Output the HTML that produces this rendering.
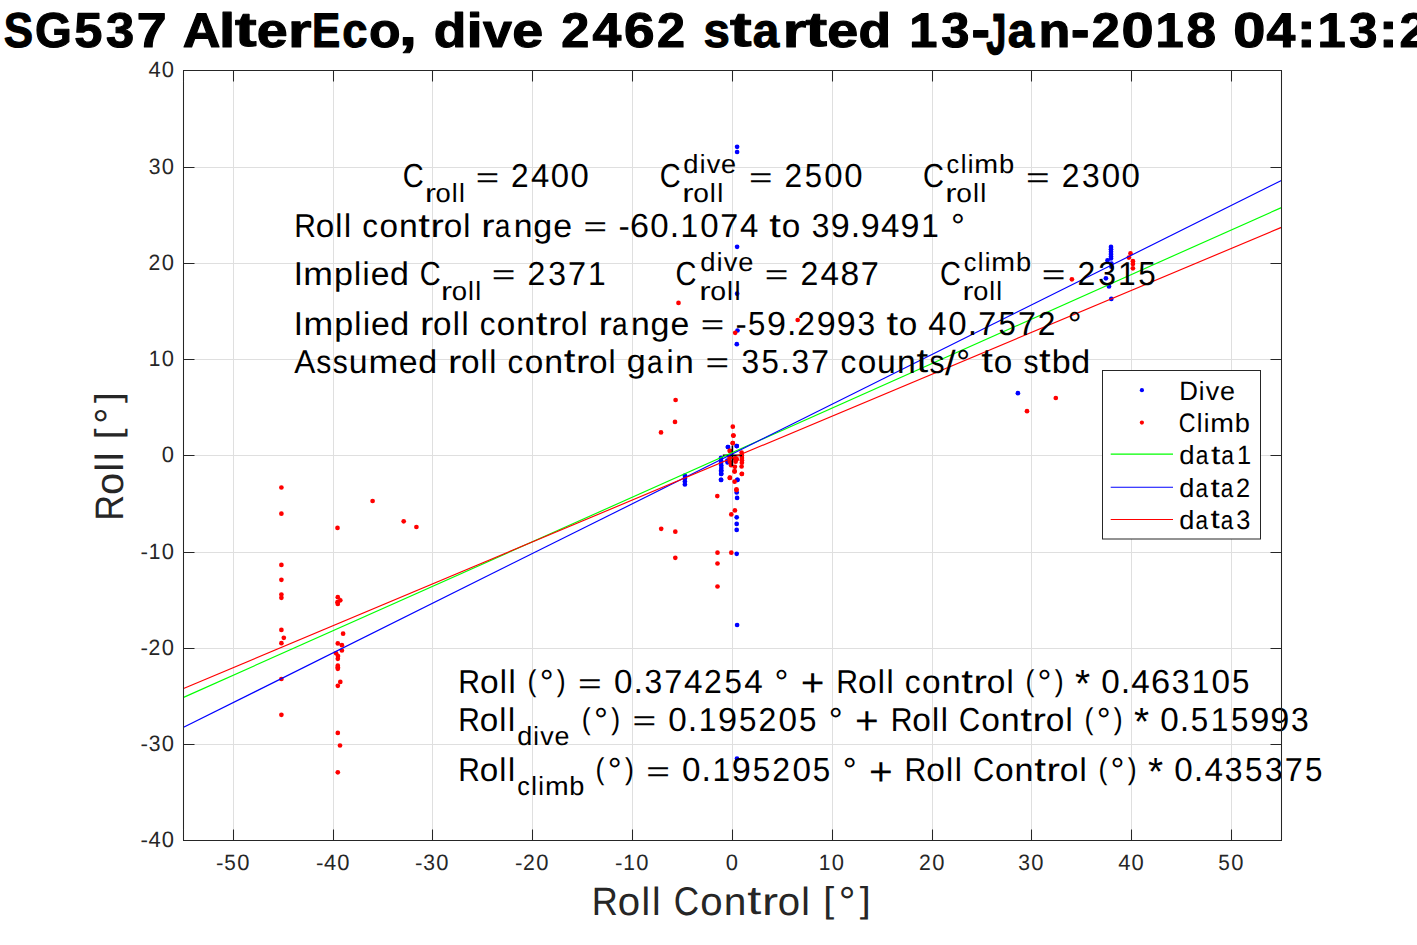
<!DOCTYPE html>
<html><head><meta charset="utf-8"><title>SG537 AlterEco roll plot</title>
<style>html,body{margin:0;padding:0;background:#fff;overflow:hidden;width:1417px;height:945px}
svg text{font-family:"Liberation Sans",sans-serif;font-kerning:none;text-rendering:geometricPrecision}</style></head>
<body><svg width="1417" height="945" viewBox="0 0 1417 945" font-family='&quot;Liberation Sans&quot;, sans-serif' style="display:block"><rect x="0" y="0" width="1417" height="945" fill="#fff"/>
<path d="M233.5 70.5V840.5 M333.5 70.5V840.5 M432.5 70.5V840.5 M532.5 70.5V840.5 M632.5 70.5V840.5 M732.5 70.5V840.5 M832.5 70.5V840.5 M932.5 70.5V840.5 M1031.5 70.5V840.5 M1131.5 70.5V840.5 M1231.5 70.5V840.5 M183.5 744.5H1281.5 M183.5 648.5H1281.5 M183.5 552.5H1281.5 M183.5 455.5H1281.5 M183.5 359.5H1281.5 M183.5 263.5H1281.5 M183.5 167.5H1281.5" stroke="#dfdfdf" stroke-width="1" fill="none"/>
<g fill="#0000ff"><circle cx="737.1" cy="146.8" r="2.35"/><circle cx="737.1" cy="152.0" r="2.35"/><circle cx="737.1" cy="246.8" r="2.35"/><circle cx="737.1" cy="293.7" r="2.35"/><circle cx="737.5" cy="330.5" r="2.35"/><circle cx="736.8" cy="344.2" r="2.35"/><circle cx="728.0" cy="447.0" r="2.35"/><circle cx="736.8" cy="446.1" r="2.35"/><circle cx="727.9" cy="447.0" r="2.35"/><circle cx="736.7" cy="446.0" r="2.35"/><circle cx="721.0" cy="457.9" r="2.35"/><circle cx="721.0" cy="460.5" r="2.35"/><circle cx="721.0" cy="463.0" r="2.35"/><circle cx="721.3" cy="465.6" r="2.35"/><circle cx="721.3" cy="468.1" r="2.35"/><circle cx="721.3" cy="470.6" r="2.35"/><circle cx="721.3" cy="473.8" r="2.35"/><circle cx="721.0" cy="479.8" r="2.35"/><circle cx="727.3" cy="460.5" r="2.35"/><circle cx="727.6" cy="462.4" r="2.35"/><circle cx="737.5" cy="479.8" r="2.35"/><circle cx="721.1" cy="470.9" r="2.35"/><circle cx="721.1" cy="474.0" r="2.35"/><circle cx="721.1" cy="479.9" r="2.35"/><circle cx="737.3" cy="479.9" r="2.35"/><circle cx="736.7" cy="492.5" r="2.35"/><circle cx="737.1" cy="497.9" r="2.35"/><circle cx="736.7" cy="517.3" r="2.35"/><circle cx="736.7" cy="523.9" r="2.35"/><circle cx="736.7" cy="529.9" r="2.35"/><circle cx="736.7" cy="553.8" r="2.35"/><circle cx="737.1" cy="625.0" r="2.35"/><circle cx="737.0" cy="758.5" r="2.35"/><circle cx="684.9" cy="475.5" r="2.35"/><circle cx="684.9" cy="478.5" r="2.35"/><circle cx="684.9" cy="481.5" r="2.35"/><circle cx="684.9" cy="484.5" r="2.35"/><circle cx="1111.0" cy="246.9" r="2.35"/><circle cx="1111.0" cy="249.3" r="2.35"/><circle cx="1111.0" cy="251.7" r="2.35"/><circle cx="1111.0" cy="254.0" r="2.35"/><circle cx="1111.0" cy="256.4" r="2.35"/><circle cx="1111.0" cy="258.4" r="2.35"/><circle cx="1107.5" cy="260.4" r="2.35"/><circle cx="1111.4" cy="263.6" r="2.35"/><circle cx="1111.4" cy="266.7" r="2.35"/><circle cx="1105.9" cy="278.3" r="2.35"/><circle cx="1109.0" cy="286.4" r="2.35"/><circle cx="1111.3" cy="298.9" r="2.35"/><circle cx="1017.9" cy="393.2" r="2.35"/></g>
<g fill="#ff0000"><circle cx="281.4" cy="487.5" r="2.35"/><circle cx="281.4" cy="513.7" r="2.35"/><circle cx="281.4" cy="564.9" r="2.35"/><circle cx="281.4" cy="579.8" r="2.35"/><circle cx="281.4" cy="594.6" r="2.35"/><circle cx="281.4" cy="597.8" r="2.35"/><circle cx="281.4" cy="629.9" r="2.35"/><circle cx="283.8" cy="637.8" r="2.35"/><circle cx="281.4" cy="643.2" r="2.35"/><circle cx="281.4" cy="679.0" r="2.35"/><circle cx="281.4" cy="714.8" r="2.35"/><circle cx="337.5" cy="527.9" r="2.35"/><circle cx="337.8" cy="597.2" r="2.35"/><circle cx="340.3" cy="600.3" r="2.35"/><circle cx="337.5" cy="602.2" r="2.35"/><circle cx="337.8" cy="604.0" r="2.35"/><circle cx="343.1" cy="633.7" r="2.35"/><circle cx="337.8" cy="643.4" r="2.35"/><circle cx="341.9" cy="645.2" r="2.35"/><circle cx="341.9" cy="650.5" r="2.35"/><circle cx="336.1" cy="653.3" r="2.35"/><circle cx="338.0" cy="656.1" r="2.35"/><circle cx="337.8" cy="658.8" r="2.35"/><circle cx="337.8" cy="665.7" r="2.35"/><circle cx="337.8" cy="667.2" r="2.35"/><circle cx="337.8" cy="668.8" r="2.35"/><circle cx="340.3" cy="681.9" r="2.35"/><circle cx="337.8" cy="685.8" r="2.35"/><circle cx="337.8" cy="732.9" r="2.35"/><circle cx="340.0" cy="745.5" r="2.35"/><circle cx="337.8" cy="772.3" r="2.35"/><circle cx="372.6" cy="501.0" r="2.35"/><circle cx="403.7" cy="521.3" r="2.35"/><circle cx="416.4" cy="527.0" r="2.35"/><circle cx="678.5" cy="302.9" r="2.35"/><circle cx="797.7" cy="320.0" r="2.35"/><circle cx="735.2" cy="332.8" r="2.35"/><circle cx="675.6" cy="400.0" r="2.35"/><circle cx="675.0" cy="421.9" r="2.35"/><circle cx="661.0" cy="432.4" r="2.35"/><circle cx="732.8" cy="426.7" r="2.35"/><circle cx="733.3" cy="435.6" r="2.35"/><circle cx="732.8" cy="443.2" r="2.35"/><circle cx="730.0" cy="450.9" r="2.35"/><circle cx="733.5" cy="435.6" r="2.35"/><circle cx="732.7" cy="443.0" r="2.35"/><circle cx="729.7" cy="450.8" r="2.35"/><circle cx="741.6" cy="452.5" r="2.35"/><circle cx="741.9" cy="455.4" r="2.35"/><circle cx="741.9" cy="457.9" r="2.35"/><circle cx="741.9" cy="460.2" r="2.35"/><circle cx="741.9" cy="462.7" r="2.35"/><circle cx="741.6" cy="466.5" r="2.35"/><circle cx="741.9" cy="473.8" r="2.35"/><circle cx="729.5" cy="457.9" r="2.35"/><circle cx="729.8" cy="461.7" r="2.35"/><circle cx="731.1" cy="465.2" r="2.35"/><circle cx="734.6" cy="458.6" r="2.35"/><circle cx="736.8" cy="459.2" r="2.35"/><circle cx="735.6" cy="461.7" r="2.35"/><circle cx="734.9" cy="466.8" r="2.35"/><circle cx="734.6" cy="471.3" r="2.35"/><circle cx="729.8" cy="477.9" r="2.35"/><circle cx="734.6" cy="481.7" r="2.35"/><circle cx="736.5" cy="489.4" r="2.35"/><circle cx="734.6" cy="471.4" r="2.35"/><circle cx="741.8" cy="474.0" r="2.35"/><circle cx="729.9" cy="477.7" r="2.35"/><circle cx="736.4" cy="490.1" r="2.35"/><circle cx="717.3" cy="496.1" r="2.35"/><circle cx="734.9" cy="510.4" r="2.35"/><circle cx="731.3" cy="514.4" r="2.35"/><circle cx="717.5" cy="552.7" r="2.35"/><circle cx="731.3" cy="552.7" r="2.35"/><circle cx="717.5" cy="563.5" r="2.35"/><circle cx="717.5" cy="586.5" r="2.35"/><circle cx="661.2" cy="528.8" r="2.35"/><circle cx="675.3" cy="531.7" r="2.35"/><circle cx="675.3" cy="557.8" r="2.35"/><circle cx="1130.5" cy="253.4" r="2.35"/><circle cx="1128.9" cy="257.6" r="2.35"/><circle cx="1132.9" cy="261.2" r="2.35"/><circle cx="1132.9" cy="264.0" r="2.35"/><circle cx="1132.9" cy="268.3" r="2.35"/><circle cx="1055.8" cy="398.0" r="2.35"/><circle cx="1027.0" cy="411.2" r="2.35"/><circle cx="1071.9" cy="279.3" r="2.35"/></g>
<path d="M722.8 455.4H742M732.4 445.6V465.9" stroke="#000" stroke-width="1.6" fill="none"/>
<path d="M183.6 697.4L1281.4 207.6" stroke="#00ff00" stroke-width="1.15" fill="none"/>
<path d="M183.6 727.3L1281.4 180.5" stroke="#0000ff" stroke-width="1.15" fill="none"/>
<path d="M183.6 688.5L1281.4 227.4" stroke="#ff0000" stroke-width="1.15" fill="none"/>
<g><g font-size="32.81" fill="#000"><text transform="matrix(0.8841,0,0,1.0174,402.73,187.22)" x="0" y="0">C</text></g><g font-size="26.25" fill="#000"><text transform="matrix(1.2570,0,0,0.9913,424.91,202.00)" x="0" y="0">r</text><text transform="matrix(1.0429,0,0,0.9982,435.62,202.10)" x="0" y="0">o</text><text transform="matrix(1.0028,0,0,0.9986,451.76,202.00)" x="0" y="0">l</text><text transform="matrix(1.0028,0,0,0.9986,458.91,202.00)" x="0" y="0">l</text></g><g font-size="32.81" fill="#000"><text transform="matrix(1.2231,0,0,0.8500,475.74,186.50)" x="0" y="0">=</text><text transform="matrix(0.9645,0,0,1.0123,511.09,187.10)" x="0" y="0">2</text><text transform="matrix(1.0008,0,0,1.0092,530.98,187.10)" x="0" y="0">4</text><text transform="matrix(1.0007,0,0,1.0174,550.80,187.22)" x="0" y="0">0</text><text transform="matrix(1.0007,0,0,1.0174,570.62,187.22)" x="0" y="0">0</text></g><g font-size="32.81" fill="#000"><text transform="matrix(0.8841,0,0,1.0174,659.73,187.22)" x="0" y="0">C</text></g><g font-size="26.25" fill="#000"><text transform="matrix(1.0396,0,0,1.0037,683.35,173.10)" x="0" y="0">d</text><text transform="matrix(0.9778,0,0,0.9986,699.70,173.00)" x="0" y="0">i</text><text transform="matrix(1.0323,0,0,0.9858,706.68,173.00)" x="0" y="0">v</text><text transform="matrix(1.0332,0,0,0.9982,721.12,173.10)" x="0" y="0">e</text></g><g font-size="26.25" fill="#000"><text transform="matrix(1.2920,0,0,0.9913,682.25,201.70)" x="0" y="0">r</text><text transform="matrix(1.0720,0,0,0.9982,693.26,201.80)" x="0" y="0">o</text><text transform="matrix(1.0308,0,0,0.9986,709.84,201.70)" x="0" y="0">l</text><text transform="matrix(1.0308,0,0,0.9986,717.20,201.70)" x="0" y="0">l</text></g><g font-size="32.81" fill="#000"><text transform="matrix(1.2264,0,0,0.8500,749.04,186.50)" x="0" y="0">=</text><text transform="matrix(0.9672,0,0,1.0123,784.48,187.10)" x="0" y="0">2</text><text transform="matrix(0.9470,0,0,1.0144,804.83,187.22)" x="0" y="0">5</text><text transform="matrix(1.0034,0,0,1.0174,824.30,187.22)" x="0" y="0">0</text><text transform="matrix(1.0034,0,0,1.0174,844.18,187.22)" x="0" y="0">0</text></g><g font-size="32.81" fill="#000"><text transform="matrix(0.8841,0,0,1.0174,922.93,187.22)" x="0" y="0">C</text></g><g font-size="26.25" fill="#000"><text transform="matrix(0.9598,0,0,0.9982,946.53,173.10)" x="0" y="0">c</text><text transform="matrix(0.9778,0,0,0.9986,960.66,173.00)" x="0" y="0">l</text><text transform="matrix(0.9778,0,0,0.9986,967.65,173.00)" x="0" y="0">i</text><text transform="matrix(1.0899,0,0,0.9913,974.35,173.00)" x="0" y="0">m</text><text transform="matrix(1.0407,0,0,1.0037,998.95,173.10)" x="0" y="0">b</text></g><g font-size="26.25" fill="#000"><text transform="matrix(1.2920,0,0,0.9913,945.35,201.70)" x="0" y="0">r</text><text transform="matrix(1.0720,0,0,0.9982,956.36,201.80)" x="0" y="0">o</text><text transform="matrix(1.0308,0,0,0.9986,972.94,201.70)" x="0" y="0">l</text><text transform="matrix(1.0308,0,0,0.9986,980.30,201.70)" x="0" y="0">l</text></g><g font-size="32.81" fill="#000"><text transform="matrix(1.2320,0,0,0.8500,1026.03,186.50)" x="0" y="0">=</text><text transform="matrix(0.9716,0,0,1.0123,1061.63,187.10)" x="0" y="0">2</text><text transform="matrix(0.9680,0,0,1.0174,1082.08,187.22)" x="0" y="0">3</text><text transform="matrix(1.0079,0,0,1.0174,1101.64,187.22)" x="0" y="0">0</text><text transform="matrix(1.0079,0,0,1.0174,1121.60,187.22)" x="0" y="0">0</text></g><g font-size="32.81" fill="#000"><text transform="matrix(0.9130,0,0,1.0092,294.24,236.90)" x="0" y="0">R</text><text transform="matrix(1.0148,0,0,0.9982,315.72,237.02)" x="0" y="0">o</text><text transform="matrix(0.9758,0,0,0.9986,335.35,236.90)" x="0" y="0">l</text><text transform="matrix(0.9758,0,0,0.9986,344.05,236.90)" x="0" y="0">l</text><text transform="matrix(0.9578,0,0,0.9982,362.31,237.02)" x="0" y="0">c</text><text transform="matrix(1.0148,0,0,0.9982,379.46,237.02)" x="0" y="0">o</text><text transform="matrix(1.0292,0,0,0.9913,398.90,236.90)" x="0" y="0">n</text><text transform="matrix(1.2758,0,0,1.0220,418.36,236.64)" x="0" y="0">t</text><text transform="matrix(1.2230,0,0,0.9913,430.61,236.90)" x="0" y="0">r</text><text transform="matrix(1.0148,0,0,0.9982,443.64,237.02)" x="0" y="0">o</text><text transform="matrix(0.9758,0,0,0.9986,463.26,236.90)" x="0" y="0">l</text><text transform="matrix(1.2230,0,0,0.9913,481.31,236.90)" x="0" y="0">r</text><text transform="matrix(0.8584,0,0,0.9982,494.69,237.02)" x="0" y="0">a</text><text transform="matrix(1.0292,0,0,0.9913,513.80,236.90)" x="0" y="0">n</text><text transform="matrix(1.0375,0,0,0.9830,533.35,236.71)" x="0" y="0">g</text><text transform="matrix(1.0311,0,0,0.9982,553.22,237.02)" x="0" y="0">e</text><text transform="matrix(1.2299,0,0,0.8500,583.51,236.30)" x="0" y="0">=</text><text transform="matrix(1.0290,0,0,0.9762,618.39,236.85)" x="0" y="0">-</text><text transform="matrix(1.0414,0,0,1.0174,630.11,237.02)" x="0" y="0">6</text><text transform="matrix(1.0062,0,0,1.0174,650.36,237.02)" x="0" y="0">0</text><text transform="matrix(1.0329,0,0,1.1046,669.77,236.90)" x="0" y="0">.</text><text transform="matrix(0.9611,0,0,1.0092,680.51,236.90)" x="0" y="0">1</text><text transform="matrix(1.0062,0,0,1.0174,700.18,237.02)" x="0" y="0">0</text><text transform="matrix(0.9843,0,0,1.0092,720.24,236.90)" x="0" y="0">7</text><text transform="matrix(1.0064,0,0,1.0092,740.03,236.90)" x="0" y="0">4</text><text transform="matrix(1.2758,0,0,1.0220,769.35,236.64)" x="0" y="0">t</text><text transform="matrix(1.0148,0,0,0.9982,781.75,237.02)" x="0" y="0">o</text><text transform="matrix(0.9664,0,0,1.0174,811.72,237.02)" x="0" y="0">3</text><text transform="matrix(1.0393,0,0,1.0174,830.84,237.02)" x="0" y="0">9</text><text transform="matrix(1.0329,0,0,1.1046,850.65,236.90)" x="0" y="0">.</text><text transform="matrix(1.0393,0,0,1.0174,860.73,237.02)" x="0" y="0">9</text><text transform="matrix(1.0064,0,0,1.0092,881.05,236.90)" x="0" y="0">4</text><text transform="matrix(1.0393,0,0,1.0174,900.58,237.02)" x="0" y="0">9</text><text transform="matrix(0.9611,0,0,1.0092,921.18,236.90)" x="0" y="0">1</text><text transform="matrix(1.0543,0,0,1.0610,950.94,238.01)" x="0" y="0">°</text></g><g font-size="32.81" fill="#000"><text transform="matrix(1.0072,0,0,1.0092,293.65,284.90)" x="0" y="0">I</text><text transform="matrix(1.0851,0,0,0.9913,303.32,284.90)" x="0" y="0">m</text><text transform="matrix(1.0361,0,0,0.9817,333.94,284.72)" x="0" y="0">p</text><text transform="matrix(0.9735,0,0,0.9986,353.92,284.90)" x="0" y="0">l</text><text transform="matrix(0.9735,0,0,0.9986,362.62,284.90)" x="0" y="0">i</text><text transform="matrix(1.0287,0,0,0.9982,370.78,285.02)" x="0" y="0">e</text><text transform="matrix(1.0351,0,0,1.0037,390.02,285.02)" x="0" y="0">d</text><text transform="matrix(0.8841,0,0,1.0174,419.77,285.02)" x="0" y="0">C</text></g><g font-size="26.25" fill="#000"><text transform="matrix(1.2640,0,0,0.9913,441.10,299.80)" x="0" y="0">r</text><text transform="matrix(1.0487,0,0,0.9982,451.87,299.90)" x="0" y="0">o</text><text transform="matrix(1.0084,0,0,0.9986,468.09,299.80)" x="0" y="0">l</text><text transform="matrix(1.0084,0,0,0.9986,475.29,299.80)" x="0" y="0">l</text></g><g font-size="32.81" fill="#000"><text transform="matrix(1.2377,0,0,0.8500,491.82,284.30)" x="0" y="0">=</text><text transform="matrix(0.9761,0,0,1.0123,527.59,284.90)" x="0" y="0">2</text><text transform="matrix(0.9725,0,0,1.0174,548.13,285.02)" x="0" y="0">3</text><text transform="matrix(0.9906,0,0,1.0092,567.92,284.90)" x="0" y="0">7</text><text transform="matrix(0.9672,0,0,1.0092,588.10,284.90)" x="0" y="0">1</text></g><g font-size="32.81" fill="#000"><text transform="matrix(0.8841,0,0,1.0174,675.43,285.02)" x="0" y="0">C</text></g><g font-size="26.25" fill="#000"><text transform="matrix(1.0458,0,0,1.0037,700.35,270.90)" x="0" y="0">d</text><text transform="matrix(0.9836,0,0,0.9986,716.79,270.80)" x="0" y="0">i</text><text transform="matrix(1.0384,0,0,0.9858,723.82,270.80)" x="0" y="0">v</text><text transform="matrix(1.0393,0,0,0.9982,738.34,270.90)" x="0" y="0">e</text></g><g font-size="26.25" fill="#000"><text transform="matrix(1.3060,0,0,0.9913,699.22,299.50)" x="0" y="0">r</text><text transform="matrix(1.0836,0,0,0.9982,710.35,299.60)" x="0" y="0">o</text><text transform="matrix(1.0420,0,0,0.9986,727.12,299.50)" x="0" y="0">l</text><text transform="matrix(1.0420,0,0,0.9986,734.55,299.50)" x="0" y="0">l</text></g><g font-size="32.81" fill="#000"><text transform="matrix(1.2376,0,0,0.8500,764.72,284.30)" x="0" y="0">=</text><text transform="matrix(0.9759,0,0,1.0123,800.48,284.90)" x="0" y="0">2</text><text transform="matrix(1.0126,0,0,1.0092,820.61,284.90)" x="0" y="0">4</text><text transform="matrix(1.0235,0,0,1.0174,840.57,285.02)" x="0" y="0">8</text><text transform="matrix(0.9904,0,0,1.0092,860.86,284.90)" x="0" y="0">7</text></g><g font-size="32.81" fill="#000"><text transform="matrix(0.8841,0,0,1.0174,940.03,285.02)" x="0" y="0">C</text></g><g font-size="26.25" fill="#000"><text transform="matrix(0.9569,0,0,0.9982,963.63,270.90)" x="0" y="0">c</text><text transform="matrix(0.9749,0,0,0.9986,977.72,270.80)" x="0" y="0">l</text><text transform="matrix(0.9749,0,0,0.9986,984.68,270.80)" x="0" y="0">i</text><text transform="matrix(1.0866,0,0,0.9913,991.37,270.80)" x="0" y="0">m</text><text transform="matrix(1.0375,0,0,1.0037,1015.90,270.90)" x="0" y="0">b</text></g><g font-size="26.25" fill="#000"><text transform="matrix(1.2465,0,0,0.9913,962.53,299.50)" x="0" y="0">r</text><text transform="matrix(1.0342,0,0,0.9982,973.15,299.60)" x="0" y="0">o</text><text transform="matrix(0.9945,0,0,0.9986,989.15,299.50)" x="0" y="0">l</text><text transform="matrix(0.9945,0,0,0.9986,996.25,299.50)" x="0" y="0">l</text></g><g font-size="32.81" fill="#000"><text transform="matrix(1.2382,0,0,0.8500,1041.82,284.30)" x="0" y="0">=</text><text transform="matrix(0.9765,0,0,1.0123,1077.60,284.90)" x="0" y="0">2</text><text transform="matrix(0.9729,0,0,1.0174,1098.15,285.02)" x="0" y="0">3</text><text transform="matrix(0.9676,0,0,1.0092,1118.08,284.90)" x="0" y="0">1</text><text transform="matrix(0.9561,0,0,1.0144,1138.27,285.02)" x="0" y="0">5</text></g><g font-size="32.81" fill="#000"><text transform="matrix(1.0088,0,0,1.0092,293.85,334.80)" x="0" y="0">I</text><text transform="matrix(1.0868,0,0,0.9913,303.53,334.80)" x="0" y="0">m</text><text transform="matrix(1.0378,0,0,0.9817,334.20,334.62)" x="0" y="0">p</text><text transform="matrix(0.9751,0,0,0.9986,354.21,334.80)" x="0" y="0">l</text><text transform="matrix(0.9751,0,0,0.9986,362.92,334.80)" x="0" y="0">i</text><text transform="matrix(1.0303,0,0,0.9982,371.10,334.92)" x="0" y="0">e</text><text transform="matrix(1.0367,0,0,1.0037,390.36,334.92)" x="0" y="0">d</text><text transform="matrix(1.2222,0,0,0.9913,420.06,334.80)" x="0" y="0">r</text><text transform="matrix(1.0141,0,0,0.9982,433.08,334.92)" x="0" y="0">o</text><text transform="matrix(0.9751,0,0,0.9986,452.69,334.80)" x="0" y="0">l</text><text transform="matrix(0.9751,0,0,0.9986,461.39,334.80)" x="0" y="0">l</text><text transform="matrix(0.9571,0,0,0.9982,479.63,334.92)" x="0" y="0">c</text><text transform="matrix(1.0141,0,0,0.9982,496.78,334.92)" x="0" y="0">o</text><text transform="matrix(1.0284,0,0,0.9913,516.20,334.80)" x="0" y="0">n</text><text transform="matrix(1.2749,0,0,1.0220,535.64,334.54)" x="0" y="0">t</text><text transform="matrix(1.2222,0,0,0.9913,547.89,334.80)" x="0" y="0">r</text><text transform="matrix(1.0141,0,0,0.9982,560.91,334.92)" x="0" y="0">o</text><text transform="matrix(0.9751,0,0,0.9986,580.52,334.80)" x="0" y="0">l</text><text transform="matrix(1.2222,0,0,0.9913,598.55,334.80)" x="0" y="0">r</text><text transform="matrix(0.8578,0,0,0.9982,611.92,334.92)" x="0" y="0">a</text><text transform="matrix(1.0284,0,0,0.9913,631.02,334.80)" x="0" y="0">n</text><text transform="matrix(1.0367,0,0,0.9830,650.56,334.61)" x="0" y="0">g</text><text transform="matrix(1.0303,0,0,0.9982,670.42,334.92)" x="0" y="0">e</text><text transform="matrix(1.2290,0,0,0.8500,700.68,334.20)" x="0" y="0">=</text><text transform="matrix(1.0283,0,0,0.9762,735.53,334.75)" x="0" y="0">-</text><text transform="matrix(0.9490,0,0,1.0144,747.97,334.92)" x="0" y="0">5</text><text transform="matrix(1.0386,0,0,1.0174,767.09,334.92)" x="0" y="0">9</text><text transform="matrix(1.0322,0,0,1.1046,786.88,334.80)" x="0" y="0">.</text><text transform="matrix(0.9692,0,0,1.0123,797.27,334.80)" x="0" y="0">2</text><text transform="matrix(1.0386,0,0,1.0174,816.86,334.92)" x="0" y="0">9</text><text transform="matrix(1.0386,0,0,1.0174,836.78,334.92)" x="0" y="0">9</text><text transform="matrix(0.9657,0,0,1.0174,857.49,334.92)" x="0" y="0">3</text><text transform="matrix(1.2749,0,0,1.0220,886.39,334.54)" x="0" y="0">t</text><text transform="matrix(1.0141,0,0,0.9982,898.78,334.92)" x="0" y="0">o</text><text transform="matrix(1.0056,0,0,1.0092,928.32,334.80)" x="0" y="0">4</text><text transform="matrix(1.0055,0,0,1.0174,948.24,334.92)" x="0" y="0">0</text><text transform="matrix(1.0322,0,0,1.1046,967.63,334.80)" x="0" y="0">.</text><text transform="matrix(0.9836,0,0,1.0092,978.24,334.80)" x="0" y="0">7</text><text transform="matrix(0.9490,0,0,1.0144,998.41,334.92)" x="0" y="0">5</text><text transform="matrix(0.9836,0,0,1.0092,1018.07,334.80)" x="0" y="0">7</text><text transform="matrix(0.9692,0,0,1.0123,1037.76,334.80)" x="0" y="0">2</text><text transform="matrix(1.0536,0,0,1.0610,1067.85,335.91)" x="0" y="0">°</text></g><g font-size="32.81" fill="#000"><text transform="matrix(0.9625,0,0,1.0092,294.24,372.60)" x="0" y="0">A</text><text transform="matrix(0.9158,0,0,1.0009,316.36,372.72)" x="0" y="0">s</text><text transform="matrix(0.9158,0,0,1.0009,332.70,372.72)" x="0" y="0">s</text><text transform="matrix(1.0301,0,0,1.0163,348.64,372.72)" x="0" y="0">u</text><text transform="matrix(1.0886,0,0,0.9913,368.51,372.60)" x="0" y="0">m</text><text transform="matrix(1.0320,0,0,0.9982,398.87,372.72)" x="0" y="0">e</text><text transform="matrix(1.0384,0,0,1.0037,418.16,372.72)" x="0" y="0">d</text><text transform="matrix(1.2241,0,0,0.9913,447.91,372.60)" x="0" y="0">r</text><text transform="matrix(1.0157,0,0,0.9982,460.95,372.72)" x="0" y="0">o</text><text transform="matrix(0.9767,0,0,0.9986,480.59,372.60)" x="0" y="0">l</text><text transform="matrix(0.9767,0,0,0.9986,489.30,372.60)" x="0" y="0">l</text><text transform="matrix(0.9587,0,0,0.9982,507.57,372.72)" x="0" y="0">c</text><text transform="matrix(1.0157,0,0,0.9982,524.75,372.72)" x="0" y="0">o</text><text transform="matrix(1.0301,0,0,0.9913,544.20,372.60)" x="0" y="0">n</text><text transform="matrix(1.2769,0,0,1.0220,563.67,372.34)" x="0" y="0">t</text><text transform="matrix(1.2241,0,0,0.9913,575.94,372.60)" x="0" y="0">r</text><text transform="matrix(1.0157,0,0,0.9982,588.98,372.72)" x="0" y="0">o</text><text transform="matrix(0.9767,0,0,0.9986,608.62,372.60)" x="0" y="0">l</text><text transform="matrix(1.0384,0,0,0.9830,626.80,372.41)" x="0" y="0">g</text><text transform="matrix(0.8592,0,0,0.9982,647.09,372.72)" x="0" y="0">a</text><text transform="matrix(0.9767,0,0,0.9986,666.42,372.60)" x="0" y="0">i</text><text transform="matrix(1.0301,0,0,0.9913,674.93,372.60)" x="0" y="0">n</text><text transform="matrix(1.2310,0,0,0.8500,705.51,372.00)" x="0" y="0">=</text><text transform="matrix(0.9672,0,0,1.0174,741.57,372.72)" x="0" y="0">3</text><text transform="matrix(0.9505,0,0,1.0144,761.51,372.72)" x="0" y="0">5</text><text transform="matrix(1.0338,0,0,1.1046,780.54,372.60)" x="0" y="0">.</text><text transform="matrix(0.9672,0,0,1.0174,791.43,372.72)" x="0" y="0">3</text><text transform="matrix(0.9852,0,0,1.0092,811.11,372.60)" x="0" y="0">7</text><text transform="matrix(0.9587,0,0,0.9982,840.50,372.72)" x="0" y="0">c</text><text transform="matrix(1.0157,0,0,0.9982,857.67,372.72)" x="0" y="0">o</text><text transform="matrix(1.0301,0,0,1.0163,876.99,372.72)" x="0" y="0">u</text><text transform="matrix(1.0301,0,0,0.9913,896.99,372.60)" x="0" y="0">n</text><text transform="matrix(1.2769,0,0,1.0220,916.47,372.34)" x="0" y="0">t</text><text transform="matrix(0.9158,0,0,1.0009,929.41,372.72)" x="0" y="0">s</text><text transform="matrix(1.1586,0,0,1.0657,944.88,375.16)" x="0" y="0">/</text><text transform="matrix(1.0553,0,0,1.0610,956.37,373.71)" x="0" y="0">°</text><text transform="matrix(1.2769,0,0,1.0220,981.29,372.34)" x="0" y="0">t</text><text transform="matrix(1.0157,0,0,0.9982,993.71,372.72)" x="0" y="0">o</text><text transform="matrix(0.9158,0,0,1.0009,1023.39,372.72)" x="0" y="0">s</text><text transform="matrix(1.2769,0,0,1.0220,1039.06,372.34)" x="0" y="0">t</text><text transform="matrix(1.0394,0,0,1.0037,1051.80,372.72)" x="0" y="0">b</text><text transform="matrix(1.0384,0,0,1.0037,1071.35,372.72)" x="0" y="0">d</text></g><g font-size="32.81" fill="#000"><text transform="matrix(0.9185,0,0,1.0092,458.33,693.10)" x="0" y="0">R</text><text transform="matrix(1.0209,0,0,0.9982,479.93,693.22)" x="0" y="0">o</text><text transform="matrix(0.9817,0,0,0.9986,499.68,693.10)" x="0" y="0">l</text><text transform="matrix(0.9817,0,0,0.9986,508.43,693.10)" x="0" y="0">l</text><text transform="matrix(0.8118,0,0,0.9105,527.46,691.03)" x="0" y="0">(</text><text transform="matrix(1.0607,0,0,1.0610,539.63,694.21)" x="0" y="0">°</text><text transform="matrix(0.8118,0,0,0.9105,556.82,691.03)" x="0" y="0">)</text><text transform="matrix(1.2373,0,0,0.8500,578.12,692.50)" x="0" y="0">=</text><text transform="matrix(1.0123,0,0,1.0174,613.96,693.22)" x="0" y="0">0</text><text transform="matrix(1.0391,0,0,1.1046,633.49,693.10)" x="0" y="0">.</text><text transform="matrix(0.9722,0,0,1.0174,644.43,693.22)" x="0" y="0">3</text><text transform="matrix(0.9902,0,0,1.0092,664.21,693.10)" x="0" y="0">7</text><text transform="matrix(1.0124,0,0,1.0092,684.12,693.10)" x="0" y="0">4</text><text transform="matrix(0.9758,0,0,1.0123,704.09,693.10)" x="0" y="0">2</text><text transform="matrix(0.9554,0,0,1.0144,724.61,693.22)" x="0" y="0">5</text><text transform="matrix(1.0124,0,0,1.0092,744.26,693.10)" x="0" y="0">4</text><text transform="matrix(1.0607,0,0,1.0610,774.48,694.21)" x="0" y="0">°</text><text transform="matrix(1.2373,0,0,1.2000,800.68,696.40)" x="0" y="0">+</text><text transform="matrix(0.9185,0,0,1.0092,836.36,693.10)" x="0" y="0">R</text><text transform="matrix(1.0209,0,0,0.9982,857.97,693.22)" x="0" y="0">o</text><text transform="matrix(0.9817,0,0,0.9986,877.71,693.10)" x="0" y="0">l</text><text transform="matrix(0.9817,0,0,0.9986,886.47,693.10)" x="0" y="0">l</text><text transform="matrix(0.9636,0,0,0.9982,904.83,693.22)" x="0" y="0">c</text><text transform="matrix(1.0209,0,0,0.9982,922.10,693.22)" x="0" y="0">o</text><text transform="matrix(1.0354,0,0,0.9913,941.65,693.10)" x="0" y="0">n</text><text transform="matrix(1.2835,0,0,1.0220,961.22,692.84)" x="0" y="0">t</text><text transform="matrix(1.2304,0,0,0.9913,973.55,693.10)" x="0" y="0">r</text><text transform="matrix(1.0209,0,0,0.9982,986.66,693.22)" x="0" y="0">o</text><text transform="matrix(0.9817,0,0,0.9986,1006.40,693.10)" x="0" y="0">l</text><text transform="matrix(0.8118,0,0,0.9105,1025.43,691.03)" x="0" y="0">(</text><text transform="matrix(1.0607,0,0,1.0610,1037.59,694.21)" x="0" y="0">°</text><text transform="matrix(0.8118,0,0,0.9105,1054.79,691.03)" x="0" y="0">)</text><text transform="matrix(1.1833,0,0,1.2000,1075.04,697.21)" x="0" y="0">*</text><text transform="matrix(1.0123,0,0,1.0174,1101.28,693.22)" x="0" y="0">0</text><text transform="matrix(1.0391,0,0,1.1046,1120.81,693.10)" x="0" y="0">.</text><text transform="matrix(1.0124,0,0,1.0092,1131.34,693.10)" x="0" y="0">4</text><text transform="matrix(1.0477,0,0,1.0174,1151.07,693.22)" x="0" y="0">6</text><text transform="matrix(0.9722,0,0,1.0174,1171.85,693.22)" x="0" y="0">3</text><text transform="matrix(0.9668,0,0,1.0092,1191.76,693.10)" x="0" y="0">1</text><text transform="matrix(1.0123,0,0,1.0174,1211.54,693.22)" x="0" y="0">0</text><text transform="matrix(0.9554,0,0,1.0144,1231.98,693.22)" x="0" y="0">5</text></g><g font-size="32.81" fill="#000"><text transform="matrix(0.9109,0,0,1.0092,458.35,730.90)" x="0" y="0">R</text><text transform="matrix(1.0125,0,0,0.9982,479.78,731.02)" x="0" y="0">o</text><text transform="matrix(0.9735,0,0,0.9986,499.36,730.90)" x="0" y="0">l</text><text transform="matrix(0.9735,0,0,0.9986,508.04,730.90)" x="0" y="0">l</text></g><g font-size="26.25" fill="#000"><text transform="matrix(1.0293,0,0,1.0037,517.17,744.80)" x="0" y="0">d</text><text transform="matrix(0.9681,0,0,0.9986,533.35,744.70)" x="0" y="0">i</text><text transform="matrix(1.0221,0,0,0.9858,540.26,744.70)" x="0" y="0">v</text><text transform="matrix(1.0229,0,0,0.9982,554.56,744.80)" x="0" y="0">e</text></g><g font-size="32.81" fill="#000"><text transform="matrix(0.8118,0,0,0.9105,581.85,728.83)" x="0" y="0">(</text><text transform="matrix(1.0607,0,0,1.0610,594.01,732.01)" x="0" y="0">°</text><text transform="matrix(0.8118,0,0,0.9105,611.21,728.83)" x="0" y="0">)</text><text transform="matrix(1.2373,0,0,0.8500,632.51,730.30)" x="0" y="0">=</text><text transform="matrix(1.0123,0,0,1.0174,668.35,731.02)" x="0" y="0">0</text><text transform="matrix(1.0391,0,0,1.1046,687.87,730.90)" x="0" y="0">.</text><text transform="matrix(0.9669,0,0,1.0092,698.68,730.90)" x="0" y="0">1</text><text transform="matrix(1.0456,0,0,1.0174,718.06,731.02)" x="0" y="0">9</text><text transform="matrix(0.9554,0,0,1.0144,738.91,731.02)" x="0" y="0">5</text><text transform="matrix(0.9758,0,0,1.0123,758.48,730.90)" x="0" y="0">2</text><text transform="matrix(1.0123,0,0,1.0174,778.61,731.02)" x="0" y="0">0</text><text transform="matrix(0.9554,0,0,1.0144,799.05,731.02)" x="0" y="0">5</text><text transform="matrix(1.0607,0,0,1.0610,828.87,732.01)" x="0" y="0">°</text><text transform="matrix(1.2373,0,0,1.2000,855.07,734.20)" x="0" y="0">+</text><text transform="matrix(0.9185,0,0,1.0092,890.75,730.90)" x="0" y="0">R</text><text transform="matrix(1.0209,0,0,0.9982,912.36,731.02)" x="0" y="0">o</text><text transform="matrix(0.9817,0,0,0.9986,932.10,730.90)" x="0" y="0">l</text><text transform="matrix(0.9817,0,0,0.9986,940.86,730.90)" x="0" y="0">l</text><text transform="matrix(0.8915,0,0,1.0174,959.11,731.02)" x="0" y="0">C</text><text transform="matrix(1.0209,0,0,0.9982,981.16,731.02)" x="0" y="0">o</text><text transform="matrix(1.0354,0,0,0.9913,1000.71,730.90)" x="0" y="0">n</text><text transform="matrix(1.2835,0,0,1.0220,1020.29,730.64)" x="0" y="0">t</text><text transform="matrix(1.2304,0,0,0.9913,1032.62,730.90)" x="0" y="0">r</text><text transform="matrix(1.0209,0,0,0.9982,1045.72,731.02)" x="0" y="0">o</text><text transform="matrix(0.9817,0,0,0.9986,1065.47,730.90)" x="0" y="0">l</text><text transform="matrix(0.8118,0,0,0.9105,1084.50,728.83)" x="0" y="0">(</text><text transform="matrix(1.0607,0,0,1.0610,1096.66,732.01)" x="0" y="0">°</text><text transform="matrix(0.8118,0,0,0.9105,1113.86,728.83)" x="0" y="0">)</text><text transform="matrix(1.1834,0,0,1.2000,1134.11,735.01)" x="0" y="0">*</text><text transform="matrix(1.0123,0,0,1.0174,1160.35,731.02)" x="0" y="0">0</text><text transform="matrix(1.0391,0,0,1.1046,1179.87,730.90)" x="0" y="0">.</text><text transform="matrix(0.9554,0,0,1.0144,1190.81,731.02)" x="0" y="0">5</text><text transform="matrix(0.9669,0,0,1.0092,1210.73,730.90)" x="0" y="0">1</text><text transform="matrix(0.9554,0,0,1.0144,1230.91,731.02)" x="0" y="0">5</text><text transform="matrix(1.0456,0,0,1.0174,1250.16,731.02)" x="0" y="0">9</text><text transform="matrix(1.0456,0,0,1.0174,1270.20,731.02)" x="0" y="0">9</text><text transform="matrix(0.9722,0,0,1.0174,1291.06,731.02)" x="0" y="0">3</text></g><g font-size="32.81" fill="#000"><text transform="matrix(0.9109,0,0,1.0092,458.35,781.20)" x="0" y="0">R</text><text transform="matrix(1.0125,0,0,0.9982,479.78,781.32)" x="0" y="0">o</text><text transform="matrix(0.9735,0,0,0.9986,499.36,781.20)" x="0" y="0">l</text><text transform="matrix(0.9735,0,0,0.9986,508.04,781.20)" x="0" y="0">l</text></g><g font-size="26.25" fill="#000"><text transform="matrix(0.9540,0,0,0.9982,517.24,795.10)" x="0" y="0">c</text><text transform="matrix(0.9719,0,0,0.9986,531.28,795.00)" x="0" y="0">l</text><text transform="matrix(0.9719,0,0,0.9986,538.22,795.00)" x="0" y="0">i</text><text transform="matrix(1.0832,0,0,0.9913,544.89,795.00)" x="0" y="0">m</text><text transform="matrix(1.0344,0,0,1.0037,569.34,795.10)" x="0" y="0">b</text></g><g font-size="32.81" fill="#000"><text transform="matrix(0.8121,0,0,0.9105,595.55,779.13)" x="0" y="0">(</text><text transform="matrix(1.0612,0,0,1.0610,607.72,782.31)" x="0" y="0">°</text><text transform="matrix(0.8121,0,0,0.9105,624.92,779.13)" x="0" y="0">)</text><text transform="matrix(1.2379,0,0,0.8500,646.23,780.60)" x="0" y="0">=</text><text transform="matrix(1.0128,0,0,1.0174,682.09,781.32)" x="0" y="0">0</text><text transform="matrix(1.0396,0,0,1.1046,701.62,781.20)" x="0" y="0">.</text><text transform="matrix(0.9673,0,0,1.0092,712.43,781.20)" x="0" y="0">1</text><text transform="matrix(1.0461,0,0,1.0174,731.82,781.32)" x="0" y="0">9</text><text transform="matrix(0.9558,0,0,1.0144,752.68,781.32)" x="0" y="0">5</text><text transform="matrix(0.9762,0,0,1.0123,772.26,781.20)" x="0" y="0">2</text><text transform="matrix(1.0128,0,0,1.0174,792.40,781.32)" x="0" y="0">0</text><text transform="matrix(0.9558,0,0,1.0144,812.85,781.32)" x="0" y="0">5</text><text transform="matrix(1.0612,0,0,1.0610,842.68,782.31)" x="0" y="0">°</text><text transform="matrix(1.2379,0,0,1.2000,868.89,784.50)" x="0" y="0">+</text><text transform="matrix(0.9189,0,0,1.0092,904.59,781.20)" x="0" y="0">R</text><text transform="matrix(1.0214,0,0,0.9982,926.21,781.32)" x="0" y="0">o</text><text transform="matrix(0.9821,0,0,0.9986,945.96,781.20)" x="0" y="0">l</text><text transform="matrix(0.9821,0,0,0.9986,954.72,781.20)" x="0" y="0">l</text><text transform="matrix(0.8919,0,0,1.0174,972.98,781.32)" x="0" y="0">C</text><text transform="matrix(1.0214,0,0,0.9982,995.04,781.32)" x="0" y="0">o</text><text transform="matrix(1.0359,0,0,0.9913,1014.61,781.20)" x="0" y="0">n</text><text transform="matrix(1.2841,0,0,1.0220,1034.19,780.94)" x="0" y="0">t</text><text transform="matrix(1.2310,0,0,0.9913,1046.52,781.20)" x="0" y="0">r</text><text transform="matrix(1.0214,0,0,0.9982,1059.63,781.32)" x="0" y="0">o</text><text transform="matrix(0.9821,0,0,0.9986,1079.39,781.20)" x="0" y="0">l</text><text transform="matrix(0.8121,0,0,0.9105,1098.43,779.13)" x="0" y="0">(</text><text transform="matrix(1.0612,0,0,1.0610,1110.60,782.31)" x="0" y="0">°</text><text transform="matrix(0.8121,0,0,0.9105,1127.80,779.13)" x="0" y="0">)</text><text transform="matrix(1.1839,0,0,1.2000,1148.06,785.31)" x="0" y="0">*</text><text transform="matrix(1.0128,0,0,1.0174,1174.31,781.32)" x="0" y="0">0</text><text transform="matrix(1.0396,0,0,1.1046,1193.85,781.20)" x="0" y="0">.</text><text transform="matrix(1.0129,0,0,1.0092,1204.39,781.20)" x="0" y="0">4</text><text transform="matrix(0.9726,0,0,1.0174,1224.86,781.32)" x="0" y="0">3</text><text transform="matrix(0.9558,0,0,1.0144,1244.90,781.32)" x="0" y="0">5</text><text transform="matrix(0.9726,0,0,1.0174,1264.97,781.32)" x="0" y="0">3</text><text transform="matrix(0.9907,0,0,1.0092,1284.76,781.20)" x="0" y="0">7</text><text transform="matrix(0.9558,0,0,1.0144,1305.07,781.32)" x="0" y="0">5</text></g></g>
<rect x="1102.5" y="370.5" width="158" height="168.5" fill="#fff" stroke="#262626" stroke-width="1"/>
<circle cx="1141.9" cy="390.2" r="2.1" fill="#0000ff"/><circle cx="1141.9" cy="422.6" r="2.1" fill="#ff0000"/>
<path d="M1110.7 454.1H1173" stroke="#00ff00" stroke-width="1.1"/>
<path d="M1110.7 487.3H1173" stroke="#0000ff" stroke-width="1.1"/>
<path d="M1110.7 519.5H1173" stroke="#ff0000" stroke-width="1.1"/>
<g font-size="26.25" fill="#000"><text transform="matrix(0.9854,0,0,1.0092,1179.18,399.70)" x="0" y="0">D</text><text transform="matrix(0.9735,0,0,0.9986,1198.74,399.70)" x="0" y="0">i</text><text transform="matrix(1.0278,0,0,0.9858,1205.70,399.70)" x="0" y="0">v</text><text transform="matrix(1.0287,0,0,0.9982,1220.07,399.80)" x="0" y="0">e</text></g>
<g font-size="26.25" fill="#000"><text transform="matrix(0.8841,0,0,1.0174,1178.82,431.99)" x="0" y="0">C</text><text transform="matrix(0.9735,0,0,0.9986,1196.69,431.90)" x="0" y="0">l</text><text transform="matrix(0.9735,0,0,0.9986,1203.64,431.90)" x="0" y="0">i</text><text transform="matrix(1.0851,0,0,0.9913,1210.32,431.90)" x="0" y="0">m</text><text transform="matrix(1.0361,0,0,1.0037,1234.81,432.00)" x="0" y="0">b</text></g>
<g font-size="26.25" fill="#000"><text transform="matrix(1.0498,0,0,1.0037,1179.34,464.10)" x="0" y="0">d</text><text transform="matrix(0.8685,0,0,0.9982,1195.75,464.10)" x="0" y="0">a</text><text transform="matrix(1.2909,0,0,1.0220,1210.90,463.79)" x="0" y="0">t</text><text transform="matrix(0.8685,0,0,0.9982,1221.23,464.10)" x="0" y="0">a</text><text transform="matrix(0.9724,0,0,1.0092,1237.05,464.00)" x="0" y="0">1</text></g>
<g font-size="26.25" fill="#000"><text transform="matrix(1.0351,0,0,1.0037,1179.36,496.90)" x="0" y="0">d</text><text transform="matrix(0.8564,0,0,0.9982,1195.54,496.90)" x="0" y="0">a</text><text transform="matrix(1.2729,0,0,1.0220,1210.48,496.59)" x="0" y="0">t</text><text transform="matrix(0.8564,0,0,0.9982,1220.66,496.90)" x="0" y="0">a</text><text transform="matrix(0.9677,0,0,1.0123,1235.99,496.80)" x="0" y="0">2</text></g>
<g font-size="26.25" fill="#000"><text transform="matrix(1.0351,0,0,1.0037,1179.36,528.60)" x="0" y="0">d</text><text transform="matrix(0.8564,0,0,0.9982,1195.54,528.60)" x="0" y="0">a</text><text transform="matrix(1.2729,0,0,1.0220,1210.48,528.29)" x="0" y="0">t</text><text transform="matrix(0.8564,0,0,0.9982,1220.66,528.60)" x="0" y="0">a</text><text transform="matrix(0.9642,0,0,1.0174,1236.37,528.59)" x="0" y="0">3</text></g>
<path d="M183.5 70.5H1281.5V840.5H183.5Z M233.5 840.5V829.5M233.5 70.5V81.5 M333.5 840.5V829.5M333.5 70.5V81.5 M432.5 840.5V829.5M432.5 70.5V81.5 M532.5 840.5V829.5M532.5 70.5V81.5 M632.5 840.5V829.5M632.5 70.5V81.5 M732.5 840.5V829.5M732.5 70.5V81.5 M832.5 840.5V829.5M832.5 70.5V81.5 M932.5 840.5V829.5M932.5 70.5V81.5 M1031.5 840.5V829.5M1031.5 70.5V81.5 M1131.5 840.5V829.5M1131.5 70.5V81.5 M1231.5 840.5V829.5M1231.5 70.5V81.5 M183.5 840.5H194.5M1281.5 840.5H1270.5 M183.5 744.5H194.5M1281.5 744.5H1270.5 M183.5 648.5H194.5M1281.5 648.5H1270.5 M183.5 552.5H194.5M1281.5 552.5H1270.5 M183.5 455.5H194.5M1281.5 455.5H1270.5 M183.5 359.5H194.5M1281.5 359.5H1270.5 M183.5 263.5H194.5M1281.5 263.5H1270.5 M183.5 167.5H194.5M1281.5 167.5H1270.5 M183.5 70.5H194.5M1281.5 70.5H1270.5" stroke="#262626" stroke-width="1.05" fill="none"/>
<g font-size="23.33" fill="#262626"><text transform="matrix(0.9625,0,0,0.9152,140.58,846.77)" x="0" y="0">-</text><text transform="matrix(0.9413,0,0,0.9461,148.59,846.80)" x="0" y="0">4</text><text transform="matrix(0.9412,0,0,0.9538,161.85,846.88)" x="0" y="0">0</text></g>
<g font-size="23.33" fill="#262626"><text transform="matrix(0.9625,0,0,0.9152,140.58,750.77)" x="0" y="0">-</text><text transform="matrix(0.9039,0,0,0.9538,148.86,750.88)" x="0" y="0">3</text><text transform="matrix(0.9412,0,0,0.9538,161.85,750.88)" x="0" y="0">0</text></g>
<g font-size="23.33" fill="#262626"><text transform="matrix(0.9625,0,0,0.9152,140.58,654.77)" x="0" y="0">-</text><text transform="matrix(0.9072,0,0,0.9491,148.54,654.80)" x="0" y="0">2</text><text transform="matrix(0.9412,0,0,0.9538,161.85,654.88)" x="0" y="0">0</text></g>
<g font-size="23.33" fill="#262626"><text transform="matrix(0.9625,0,0,0.9152,140.58,558.77)" x="0" y="0">-</text><text transform="matrix(0.8989,0,0,0.9461,148.77,558.80)" x="0" y="0">1</text><text transform="matrix(0.9412,0,0,0.9538,161.85,558.88)" x="0" y="0">0</text></g>
<g font-size="23.33" fill="#262626"><text transform="matrix(0.9412,0,0,0.9538,161.85,461.88)" x="0" y="0">0</text></g>
<g font-size="23.33" fill="#262626"><text transform="matrix(0.8989,0,0,0.9461,148.77,365.80)" x="0" y="0">1</text><text transform="matrix(0.9412,0,0,0.9538,161.85,365.88)" x="0" y="0">0</text></g>
<g font-size="23.33" fill="#262626"><text transform="matrix(0.9072,0,0,0.9491,148.54,269.80)" x="0" y="0">2</text><text transform="matrix(0.9412,0,0,0.9538,161.85,269.88)" x="0" y="0">0</text></g>
<g font-size="23.33" fill="#262626"><text transform="matrix(0.9039,0,0,0.9538,148.86,173.88)" x="0" y="0">3</text><text transform="matrix(0.9412,0,0,0.9538,161.85,173.88)" x="0" y="0">0</text></g>
<g font-size="23.33" fill="#262626"><text transform="matrix(0.9413,0,0,0.9461,148.59,76.80)" x="0" y="0">4</text><text transform="matrix(0.9412,0,0,0.9538,161.85,76.88)" x="0" y="0">0</text></g>
<g font-size="23.33" fill="#262626"><text transform="matrix(0.9625,0,0,0.9152,215.99,869.57)" x="0" y="0">-</text><text transform="matrix(0.8883,0,0,0.9510,224.27,869.68)" x="0" y="0">5</text><text transform="matrix(0.9412,0,0,0.9538,237.26,869.68)" x="0" y="0">0</text></g>
<g font-size="23.33" fill="#262626"><text transform="matrix(0.9625,0,0,0.9152,315.99,869.57)" x="0" y="0">-</text><text transform="matrix(0.9413,0,0,0.9461,324.00,869.60)" x="0" y="0">4</text><text transform="matrix(0.9412,0,0,0.9538,337.26,869.68)" x="0" y="0">0</text></g>
<g font-size="23.33" fill="#262626"><text transform="matrix(0.9625,0,0,0.9152,414.99,869.57)" x="0" y="0">-</text><text transform="matrix(0.9039,0,0,0.9538,423.27,869.68)" x="0" y="0">3</text><text transform="matrix(0.9412,0,0,0.9538,436.26,869.68)" x="0" y="0">0</text></g>
<g font-size="23.33" fill="#262626"><text transform="matrix(0.9625,0,0,0.9152,514.99,869.57)" x="0" y="0">-</text><text transform="matrix(0.9072,0,0,0.9491,522.95,869.60)" x="0" y="0">2</text><text transform="matrix(0.9412,0,0,0.9538,536.26,869.68)" x="0" y="0">0</text></g>
<g font-size="23.33" fill="#262626"><text transform="matrix(0.9625,0,0,0.9152,614.99,869.57)" x="0" y="0">-</text><text transform="matrix(0.8989,0,0,0.9461,623.18,869.60)" x="0" y="0">1</text><text transform="matrix(0.9412,0,0,0.9538,636.26,869.68)" x="0" y="0">0</text></g>
<g font-size="23.33" fill="#262626"><text transform="matrix(0.9412,0,0,0.9538,725.69,869.68)" x="0" y="0">0</text></g>
<g font-size="23.33" fill="#262626"><text transform="matrix(0.8989,0,0,0.9461,818.79,869.60)" x="0" y="0">1</text><text transform="matrix(0.9412,0,0,0.9538,831.86,869.68)" x="0" y="0">0</text></g>
<g font-size="23.33" fill="#262626"><text transform="matrix(0.9072,0,0,0.9491,918.94,869.60)" x="0" y="0">2</text><text transform="matrix(0.9412,0,0,0.9538,932.24,869.68)" x="0" y="0">0</text></g>
<g font-size="23.33" fill="#262626"><text transform="matrix(0.9039,0,0,0.9538,1018.23,869.68)" x="0" y="0">3</text><text transform="matrix(0.9412,0,0,0.9538,1031.21,869.68)" x="0" y="0">0</text></g>
<g font-size="23.33" fill="#262626"><text transform="matrix(0.9413,0,0,0.9461,1118.24,869.60)" x="0" y="0">4</text><text transform="matrix(0.9412,0,0,0.9538,1131.50,869.68)" x="0" y="0">0</text></g>
<g font-size="23.33" fill="#262626"><text transform="matrix(0.8883,0,0,0.9510,1218.21,869.68)" x="0" y="0">5</text><text transform="matrix(0.9412,0,0,0.9538,1231.20,869.68)" x="0" y="0">0</text></g>
<g font-size="39.38" fill="#262626"><text transform="matrix(0.9177,0,0,1.0092,591.84,914.50)" x="0" y="0">R</text><text transform="matrix(1.0201,0,0,0.9982,617.74,914.65)" x="0" y="0">o</text><text transform="matrix(0.9809,0,0,0.9986,641.42,914.50)" x="0" y="0">l</text><text transform="matrix(0.9809,0,0,0.9986,651.91,914.50)" x="0" y="0">l</text><text transform="matrix(0.8907,0,0,1.0174,673.80,914.64)" x="0" y="0">C</text><text transform="matrix(1.0201,0,0,0.9982,700.24,914.65)" x="0" y="0">o</text><text transform="matrix(1.0345,0,0,0.9913,723.69,914.50)" x="0" y="0">n</text><text transform="matrix(1.2824,0,0,1.0220,747.16,914.19)" x="0" y="0">t</text><text transform="matrix(1.2294,0,0,0.9913,761.94,914.50)" x="0" y="0">r</text><text transform="matrix(1.0201,0,0,0.9982,777.65,914.65)" x="0" y="0">o</text><text transform="matrix(0.9809,0,0,0.9986,801.33,914.50)" x="0" y="0">l</text><text transform="matrix(0.9996,0,0,0.9110,823.32,912.00)" x="0" y="0">[</text><text transform="matrix(1.0598,0,0,1.0610,838.73,915.84)" x="0" y="0">°</text><text transform="matrix(0.9996,0,0,0.9110,859.87,912.00)" x="0" y="0">]</text></g>
<g transform="translate(122.9,912.6) rotate(-90)"><g font-size="39.38" fill="#262626"><text transform="matrix(0.9119,0,0,1.0092,391.85,0.00)" x="0" y="0">R</text><text transform="matrix(1.0136,0,0,0.9982,417.60,0.15)" x="0" y="0">o</text><text transform="matrix(0.9746,0,0,0.9986,441.12,0.00)" x="0" y="0">l</text><text transform="matrix(0.9746,0,0,0.9986,451.55,0.00)" x="0" y="0">l</text><text transform="matrix(0.9933,0,0,0.9110,473.40,-2.50)" x="0" y="0">[</text><text transform="matrix(1.0531,0,0,1.0610,488.71,1.34)" x="0" y="0">°</text><text transform="matrix(0.9933,0,0,0.9110,509.72,-2.50)" x="0" y="0">]</text></g></g>
<g font-size="48.12" font-weight="bold" fill="#000" stroke="#000" stroke-width="1.10" stroke-linejoin="round"><text transform="matrix(0.9143,0,0,1.0174,3.63,46.87)" x="0" y="0">S</text><text transform="matrix(0.9841,0,0,1.0174,34.96,46.87)" x="0" y="0">G</text><text transform="matrix(1.0505,0,0,1.0144,74.22,46.87)" x="0" y="0">5</text><text transform="matrix(1.0525,0,0,1.0153,106.03,46.80)" x="0" y="0">3</text><text transform="matrix(1.1149,0,0,1.0092,136.77,46.70)" x="0" y="0">7</text><text transform="matrix(1.0848,0,0,1.0092,182.78,46.70)" x="0" y="0">A</text><text transform="matrix(1.2134,0,0,0.9986,219.10,46.70)" x="0" y="0">l</text><text transform="matrix(1.3500,0,0,1.0115,234.95,46.27)" x="0" y="0">t</text><text transform="matrix(1.1575,0,0,0.9982,256.74,46.88)" x="0" y="0">e</text><text transform="matrix(1.2558,0,0,0.9904,287.89,46.70)" x="0" y="0">r</text><text transform="matrix(0.8794,0,0,1.0092,312.00,46.70)" x="0" y="0">E</text><text transform="matrix(0.9428,0,0,0.9982,342.13,46.88)" x="0" y="0">c</text><text transform="matrix(1.0746,0,0,0.9982,369.05,46.88)" x="0" y="0">o</text><text transform="matrix(1.3500,0,0,1.0381,399.12,45.48)" x="0" y="0">,</text><text transform="matrix(1.1093,0,0,1.0037,433.82,46.88)" x="0" y="0">d</text><text transform="matrix(1.2134,0,0,0.9986,466.53,46.70)" x="0" y="0">i</text><text transform="matrix(1.0814,0,0,0.9858,482.96,46.70)" x="0" y="0">v</text><text transform="matrix(1.1575,0,0,0.9982,512.14,46.88)" x="0" y="0">e</text><text transform="matrix(1.0480,0,0,1.0123,561.26,46.70)" x="0" y="0">2</text><text transform="matrix(1.0757,0,0,1.0092,592.54,46.70)" x="0" y="0">4</text><text transform="matrix(1.1429,0,0,1.0161,623.99,46.87)" x="0" y="0">6</text><text transform="matrix(1.0480,0,0,1.0123,656.92,46.70)" x="0" y="0">2</text><text transform="matrix(0.9844,0,0,0.9973,703.60,46.88)" x="0" y="0">s</text><text transform="matrix(1.3500,0,0,1.0115,730.08,46.27)" x="0" y="0">t</text><text transform="matrix(0.9881,0,0,0.9982,752.65,46.88)" x="0" y="0">a</text><text transform="matrix(1.2558,0,0,0.9904,782.87,46.70)" x="0" y="0">r</text><text transform="matrix(1.3500,0,0,1.0115,805.52,46.27)" x="0" y="0">t</text><text transform="matrix(1.1575,0,0,0.9982,827.31,46.88)" x="0" y="0">e</text><text transform="matrix(1.1093,0,0,1.0037,858.47,46.88)" x="0" y="0">d</text><text transform="matrix(1.0523,0,0,1.0092,909.34,46.70)" x="0" y="0">1</text><text transform="matrix(1.0525,0,0,1.0153,941.15,46.80)" x="0" y="0">3</text><text transform="matrix(1.1502,0,0,1.1358,971.46,47.68)" x="0" y="0">-</text><text transform="matrix(0.7500,0,0,1.2000,986.20,54.16)" x="0" y="0">J</text><text transform="matrix(0.9881,0,0,0.9982,1007.78,46.88)" x="0" y="0">a</text><text transform="matrix(1.0843,0,0,0.9904,1038.54,46.70)" x="0" y="0">n</text><text transform="matrix(1.1502,0,0,1.1358,1071.08,47.68)" x="0" y="0">-</text><text transform="matrix(1.0480,0,0,1.0123,1091.66,46.70)" x="0" y="0">2</text><text transform="matrix(1.2017,0,0,1.0174,1121.58,46.87)" x="0" y="0">0</text><text transform="matrix(1.0523,0,0,1.0092,1155.54,46.70)" x="0" y="0">1</text><text transform="matrix(1.1050,0,0,1.0174,1186.56,46.87)" x="0" y="0">8</text><text transform="matrix(1.2017,0,0,1.0174,1233.20,46.87)" x="0" y="0">0</text><text transform="matrix(1.0757,0,0,1.0092,1266.46,46.70)" x="0" y="0">4</text><text transform="matrix(1.1938,0,0,1.0316,1296.67,46.70)" x="0" y="0">:</text><text transform="matrix(1.0523,0,0,1.0092,1317.38,46.70)" x="0" y="0">1</text><text transform="matrix(1.0525,0,0,1.0153,1349.19,46.80)" x="0" y="0">3</text><text transform="matrix(1.1938,0,0,1.0316,1378.77,46.70)" x="0" y="0">:</text><text transform="matrix(1.0480,0,0,1.0123,1399.38,46.70)" x="0" y="0">2</text><text transform="matrix(1.0757,0,0,1.0092,1430.66,46.70)" x="0" y="0">4</text></g></svg></body></html>
